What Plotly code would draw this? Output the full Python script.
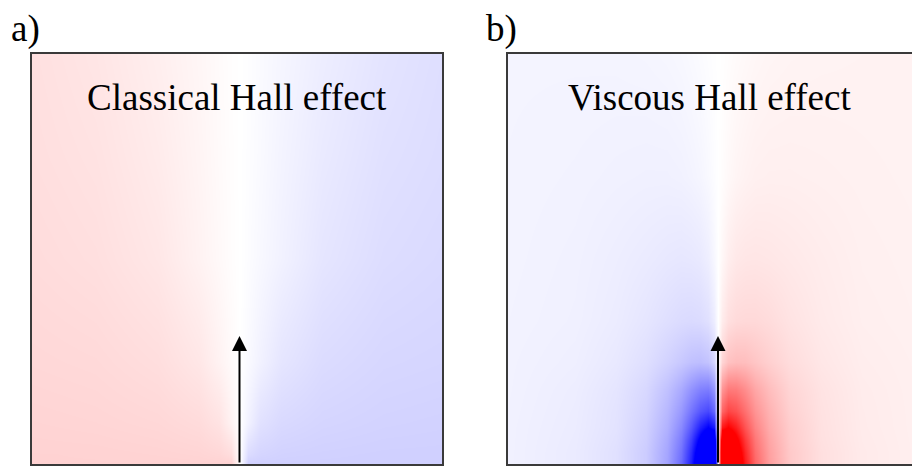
import plotly.graph_objects as go

# ---------------- data ----------------
# Panel a: classical Hall effect potential (positive = red, negative = blue)
a_x = [-1.06, -0.7, -0.4, -0.2, -0.1, -0.04, 0.0, 0.04, 0.1, 0.2, 0.4, 0.7, 1.06]
a_y = [0.0, 0.05, 0.2, 0.5, 1.0, 1.5, 2.0]
a_z = [
    [0.175, 0.175, 0.175, 0.175, 0.175, 0.175, 0.0, -0.185, -0.185, -0.185, -0.185, -0.185, -0.185],
    [0.175, 0.174, 0.170, 0.165, 0.155, 0.130, 0.0, -0.138, -0.164, -0.175, -0.180, -0.184, -0.185],
    [0.168, 0.163, 0.155, 0.140, 0.110, 0.050, 0.0, -0.053, -0.117, -0.148, -0.164, -0.173, -0.178],
    [0.155, 0.148, 0.130, 0.095, 0.050, 0.020, 0.0, -0.021, -0.053, -0.100, -0.138, -0.157, -0.164],
    [0.140, 0.125, 0.095, 0.050, 0.025, 0.010, 0.0, -0.011, -0.027, -0.053, -0.100, -0.133, -0.148],
    [0.130, 0.112, 0.078, 0.042, 0.020, 0.008, 0.0, -0.008, -0.021, -0.045, -0.083, -0.119, -0.138],
    [0.125, 0.100, 0.065, 0.035, 0.017, 0.006, 0.0, -0.006, -0.018, -0.037, -0.069, -0.106, -0.133],
]

# Panel b: viscous Hall effect potential
b_x = [-1.06, -0.7, -0.5, -0.35, -0.25, -0.18, -0.13, -0.09, -0.05, -0.02, 0.0,
       0.02, 0.05, 0.09, 0.13, 0.18, 0.25, 0.35, 0.5, 0.7, 1.06]
b_y = [0.0, 0.06, 0.12, 0.18, 0.26, 0.36, 0.5, 0.7, 1.0, 1.4, 2.0]
b_left = [  # magnitudes of the blue lobe, outer -> inner
    [0.052, 0.080, 0.120, 0.200, 0.360, 0.580, 0.880, 1.300, 1.500, 1.500],
    [0.052, 0.080, 0.120, 0.200, 0.350, 0.550, 0.830, 1.200, 1.500, 1.500],
    [0.052, 0.078, 0.115, 0.190, 0.330, 0.510, 0.750, 1.050, 1.300, 1.300],
    [0.052, 0.076, 0.110, 0.182, 0.305, 0.460, 0.650, 0.870, 1.000, 0.900],
    [0.051, 0.074, 0.108, 0.170, 0.280, 0.400, 0.540, 0.660, 0.720, 0.600],
    [0.050, 0.071, 0.102, 0.155, 0.245, 0.335, 0.430, 0.500, 0.520, 0.420],
    [0.050, 0.064, 0.088, 0.125, 0.175, 0.215, 0.245, 0.255, 0.235, 0.160],
    [0.048, 0.058, 0.076, 0.100, 0.125, 0.140, 0.145, 0.140, 0.120, 0.070],
    [0.046, 0.055, 0.068, 0.080, 0.090, 0.095, 0.092, 0.085, 0.065, 0.030],
    [0.045, 0.050, 0.055, 0.058, 0.058, 0.054, 0.047, 0.038, 0.024, 0.010],
    [0.044, 0.044, 0.043, 0.040, 0.035, 0.029, 0.022, 0.015, 0.008, 0.003],
]
b_right = [  # magnitudes of the red lobe, inner -> outer
    [1.500, 1.500, 1.300, 0.900, 0.600, 0.380, 0.210, 0.125, 0.082, 0.056],
    [1.500, 1.500, 1.200, 0.850, 0.570, 0.370, 0.210, 0.125, 0.082, 0.056],
    [1.300, 1.300, 1.050, 0.770, 0.530, 0.350, 0.200, 0.120, 0.080, 0.056],
    [0.900, 1.000, 0.880, 0.670, 0.480, 0.325, 0.195, 0.118, 0.078, 0.056],
    [0.600, 0.730, 0.680, 0.560, 0.420, 0.300, 0.180, 0.115, 0.077, 0.056],
    [0.420, 0.530, 0.520, 0.450, 0.350, 0.260, 0.165, 0.110, 0.075, 0.056],
    [0.165, 0.240, 0.260, 0.255, 0.225, 0.185, 0.135, 0.096, 0.070, 0.056],
    [0.075, 0.125, 0.145, 0.150, 0.150, 0.138, 0.110, 0.083, 0.064, 0.054],
    [0.032, 0.068, 0.090, 0.098, 0.100, 0.096, 0.087, 0.074, 0.060, 0.052],
    [0.011, 0.026, 0.041, 0.051, 0.059, 0.062, 0.062, 0.059, 0.055, 0.050],
    [0.003, 0.009, 0.017, 0.024, 0.032, 0.039, 0.044, 0.047, 0.049, 0.049],
]
b_z = [[-v for v in L] + [0.0] + R for L, R in zip(b_left, b_right)]

titles = ["Classical Hall effect", "Viscous Hall effect"]
panel_labels = ["a)", "b)"]
arrow_len = 0.625  # current injection arrow length (axis units)

# ---------------- figure ----------------
W, H = 912, 466
cs = [[0.0, "rgb(0,0,255)"], [0.5, "rgb(255,255,255)"], [1.0, "rgb(255,0,0)"]]

fig = go.Figure()
fig.add_trace(go.Heatmap(x=a_x, y=a_y, z=a_z, zmin=-1, zmax=1, colorscale=cs,
                         zsmooth="best", showscale=False, hoverinfo="skip",
                         xaxis="x", yaxis="y"))
fig.add_trace(go.Heatmap(x=b_x, y=b_y, z=b_z, zmin=-1, zmax=1, colorscale=cs,
                         zsmooth="best", showscale=False, hoverinfo="skip",
                         xaxis="x2", yaxis="y2"))

frame = dict(showline=True, linecolor="#3a3a3a", linewidth=2, showgrid=False,
             zeroline=False, showticklabels=False, ticks="")
ax_a = (32 - 239.5) / 205.0
bx_a = (442 - 239.5) / 205.0
ax_b = (508 - 718) / 205.0
bx_b = (912 - 718) / 205.0
ydom = [2 / H, 412 / H]

fig.update_layout(
    width=W, height=H, margin=dict(l=0, r=0, t=0, b=0),
    paper_bgcolor="white", plot_bgcolor="white", showlegend=False,
    xaxis=dict(domain=[32 / W, 442 / W], range=[ax_a, bx_a], mirror=True, **frame),
    yaxis=dict(domain=ydom, range=[0, 2], mirror=True, **frame),
    xaxis2=dict(domain=[508 / W, 1.0], range=[ax_b, bx_b], mirror=True, anchor="y2", **frame),
    yaxis2=dict(domain=ydom, range=[0, 2], mirror=False, anchor="x2", **frame),
)

font_txt = dict(family="Liberation Serif, Times New Roman, serif", size=37, color="black")
anns = []
for i, (xr, yr) in enumerate([("x", "y"), ("x2", "y2")]):
    # current arrow
    anns.append(dict(x=0, y=arrow_len, ax=0, ay=0, xref=xr, yref=yr, axref=xr, ayref=yr,
                     showarrow=True, arrowhead=2, arrowsize=1.5, arrowwidth=2,
                     arrowcolor="black", text="", standoff=0, startstandoff=0))
# titles
anns.append(dict(x=237 / W, y=1 - 97 / H, xref="paper", yref="paper", text=titles[0],
                 showarrow=False, font=font_txt, xanchor="center", yanchor="middle"))
anns.append(dict(x=709 / W, y=1 - 97 / H, xref="paper", yref="paper", text=titles[1],
                 showarrow=False, font=font_txt, xanchor="center", yanchor="middle"))
# panel labels
anns.append(dict(x=9 / W, y=1 - 29 / H, xref="paper", yref="paper", text=panel_labels[0],
                 showarrow=False, font=font_txt, xanchor="left", yanchor="middle"))
anns.append(dict(x=484 / W, y=1 - 29 / H, xref="paper", yref="paper", text=panel_labels[1],
                 showarrow=False, font=font_txt, xanchor="left", yanchor="middle"))
fig.update_layout(annotations=anns)

fig.write_html("out.html")
